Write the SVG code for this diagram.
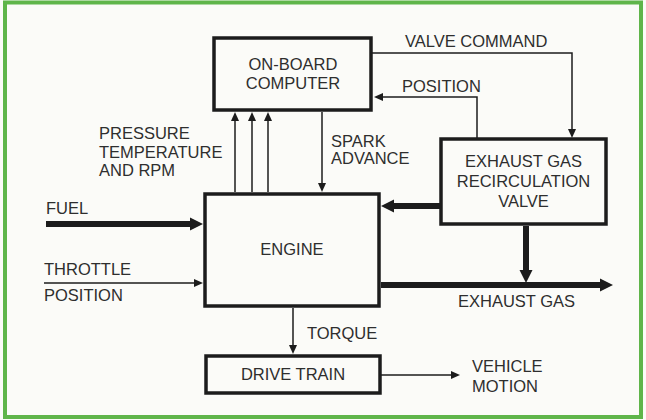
<svg xmlns="http://www.w3.org/2000/svg" width="646" height="420" viewBox="0 0 646 420">
<style>
  .box { fill: none; stroke: #1c1c1c; stroke-width: 3.5; }
  .lbl { font-family: "Liberation Sans", Arial, sans-serif; font-size: 16.5px; fill: #2e2e2e; }
  .mid { text-anchor: middle; }
  .thin { fill: none; stroke: #1c1c1c; stroke-width: 1.5; marker-end: url(#ah); }
  .thick { fill: none; stroke: #1c1c1c; stroke-width: 6; marker-end: url(#ahb); }
</style>
<defs>
  <marker id="ah" markerUnits="userSpaceOnUse" markerWidth="10" markerHeight="10" viewBox="0 -5 10 10" refX="0" refY="0" orient="auto" overflow="visible">
    <path d="M0,-4 L9,0 L0,4 z" fill="#1c1c1c"/>
  </marker>
  <marker id="ahb" markerUnits="userSpaceOnUse" markerWidth="14" markerHeight="14" viewBox="0 -7 14 14" refX="0" refY="0" orient="auto" overflow="visible">
    <path d="M0,-6.5 L13,0 L0,6.5 z" fill="#1c1c1c"/>
  </marker>
</defs>
<rect x="0" y="0" width="646" height="420" fill="#fbfbf8"/>
<rect x="5" y="2.5" width="636" height="414.5" fill="#fbfbf8" stroke="#5fb54a" stroke-width="4"/>

<g id="connectors">
  <path class="thin" d="M372,53 H572 V129"/>
  <path class="thin" d="M477,138 V97 H383"/>
  <path class="thin" d="M235,192 V121"/>
  <path class="thin" d="M252,192 V121"/>
  <path class="thin" d="M268,192 V121"/>
  <path class="thin" d="M322,112 V183"/>
  <path class="thick" d="M46,224 H190"/>
  <path class="thin" d="M44,283 H194"/>
  <path class="thick" d="M440,206 H394"/>
  <path class="thick" d="M526,226 V270"/>
  <path class="thick" d="M381,285 H600"/>
  <path class="thin" d="M293,308 V345"/>
  <path class="thin" d="M381,375 H451"/>
</g>

<g id="computer">
  <rect class="box" x="214" y="38" width="157" height="72"/>
  <text class="lbl mid" x="293" y="70">ON-BOARD</text>
  <text class="lbl mid" x="293" y="89">COMPUTER</text>
</g>
<g id="engine">
  <rect class="box" x="205" y="194" width="174" height="112"/>
  <text class="lbl mid" x="292" y="255">ENGINE</text>
</g>
<g id="egr">
  <rect class="box" x="441" y="139" width="165" height="85"/>
  <text class="lbl mid" x="523.5" y="167">EXHAUST GAS</text>
  <text class="lbl mid" x="523.5" y="187">RECIRCULATION</text>
  <text class="lbl mid" x="523.5" y="207">VALVE</text>
</g>
<g id="drivetrain">
  <rect class="box" x="206" y="356" width="174" height="37"/>
  <text class="lbl mid" x="293" y="380">DRIVE TRAIN</text>
</g>

<g id="labels">
  <text class="lbl" x="405" y="47">VALVE COMMAND</text>
  <text class="lbl" x="402" y="92">POSITION</text>
  <text class="lbl" x="99" y="139">PRESSURE</text>
  <text class="lbl" x="99" y="158">TEMPERATURE</text>
  <text class="lbl" x="99" y="176">AND RPM</text>
  <text class="lbl" x="331" y="147">SPARK</text>
  <text class="lbl" x="331" y="164">ADVANCE</text>
  <text class="lbl" x="46" y="214">FUEL</text>
  <text class="lbl" x="44" y="275">THROTTLE</text>
  <text class="lbl" x="44" y="301">POSITION</text>
  <text class="lbl" x="458" y="307">EXHAUST GAS</text>
  <text class="lbl" x="307" y="339">TORQUE</text>
  <text class="lbl" x="472" y="372">VEHICLE</text>
  <text class="lbl" x="472" y="392">MOTION</text>
</g>
</svg>
